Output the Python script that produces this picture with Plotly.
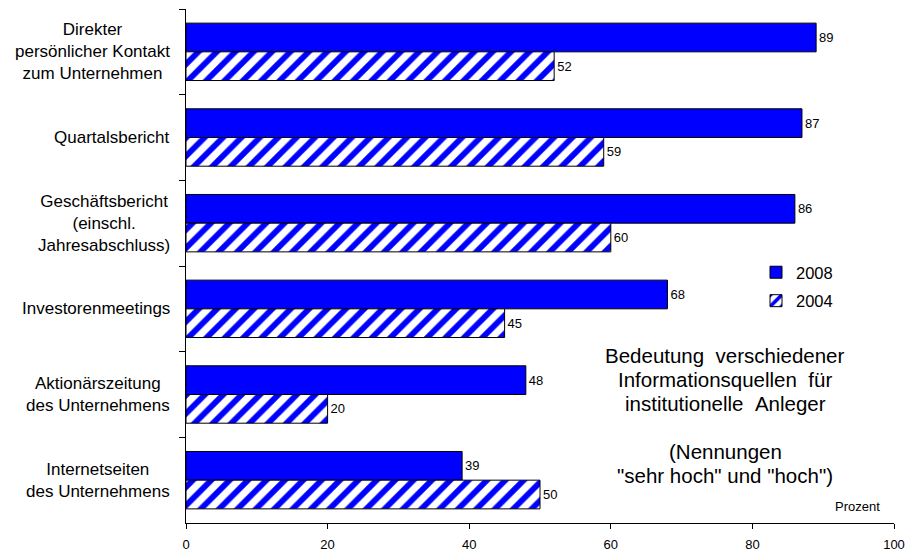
import plotly.graph_objects as go

categories = [
    "Direkter<br>persönlicher Kontakt<br>zum Unternehmen",
    "Quartalsbericht",
    "Geschäftsbericht<br>(einschl.<br>Jahresabschluss)",
    "Investorenmeetings",
    "Aktionärszeitung<br>des Unternehmens",
    "Internetseiten<br>des Unternehmens",
]
values_2008 = [89, 87, 86, 68, 48, 39]
values_2004 = [52, 59, 60, 45, 20, 50]
x_ticks = [0, 20, 40, 60, 80, 100]
note_lines = [
    "Bedeutung\u00a0\u00a0verschiedener",
    "Informationsquellen\u00a0\u00a0für",
    "institutionelle\u00a0\u00a0Anleger",
    "",
    "(Nennungen",
    "\"sehr hoch\" und \"hoch\")",
]
unit_label = "Prozent"

FONT = "Liberation Sans, Arial, sans-serif"
BLUE = "#0000FF"

# plot area geometry (pixels)
L, R, T, B = 186, 894, 9, 523
W, H = R - L, B - T


def py(ypix):
    return 1 - (ypix - T) / H


def px(xpix):
    return (xpix - L) / W


fig = go.Figure()
fig.add_trace(go.Bar(
    name="2008", y=categories, x=values_2008, orientation="h",
    marker=dict(color=BLUE, line=dict(color="black", width=1)),
    text=values_2008, textposition="outside", cliponaxis=False,
    textfont=dict(size=13, color="black", family=FONT),
    legendgroup="a",
))
fig.add_trace(go.Bar(
    name="2004", y=categories, x=values_2004, orientation="h",
    marker=dict(color="white", line=dict(color="black", width=1),
                pattern=dict(shape="/", fgcolor=BLUE, bgcolor="white",
                             size=13, solidity=0.45, fillmode="replace")),
    text=values_2004, textposition="outside", cliponaxis=False,
    textfont=dict(size=13, color="black", family=FONT),
    legendgroup="b",
))

annotations = []
for c in categories:
    annotations.append(dict(
        x=0, xref="paper", xshift=-14, y=c, yref="y", text=c, showarrow=False,
        xanchor="right", yanchor="middle", align="center",
        font=dict(size=17, color="black", family=FONT),
    ))

first_line_center = 355
line_step = 24
for i, line in enumerate(note_lines):
    if not line:
        continue
    annotations.append(dict(
        x=px(725), xref="paper", y=py(first_line_center + i * line_step), yref="paper",
        text=line, showarrow=False, xanchor="center", yanchor="middle",
        align="center", font=dict(size=20.5, color="black", family=FONT),
    ))
annotations.append(dict(
    x=px(857.5), xref="paper", y=py(506), yref="paper", text=unit_label,
    showarrow=False, xanchor="center", yanchor="middle",
    font=dict(size=13, color="black", family=FONT),
))

fig.update_layout(
    width=912, height=551,
    margin=dict(l=L, r=912 - R, t=T, b=551 - B, autoexpand=False),
    paper_bgcolor="white", plot_bgcolor="white",
    barmode="group", bargap=0.33, bargroupgap=0,
    font=dict(family=FONT, color="black"),
    showlegend=True,
    legend=dict(x=px(756), y=py(255), xanchor="left", yanchor="top",
                font=dict(size=16.5, family=FONT, color="black"),
                tracegroupgap=4, bgcolor="rgba(0,0,0,0)"),
    annotations=annotations,
)
fig.update_xaxes(
    range=[0, 100], tickvals=x_ticks, showgrid=False, zeroline=False,
    showline=True, linecolor="black", linewidth=1, automargin=False,
    ticks="outside", ticklen=5, tickcolor="black", ticklabelstandoff=4,
    tickfont=dict(size=13, family=FONT, color="black"),
)
fig.update_yaxes(
    autorange="reversed", showgrid=False, zeroline=False, automargin=False,
    showline=True, linecolor="black", linewidth=1,
    ticks="outside", ticklen=6, tickcolor="black", tickson="boundaries",
    showticklabels=False,
)

fig.write_html("out.html")
